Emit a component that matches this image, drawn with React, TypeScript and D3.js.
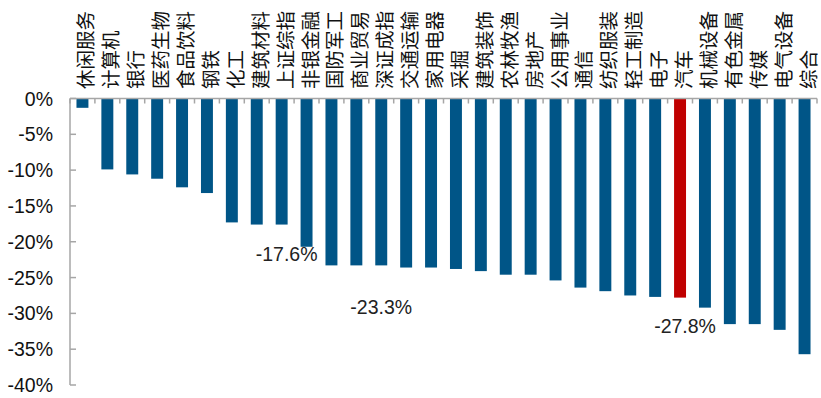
import React from "react";
import * as d3 from "d3";

const categories = ["休闲服务","计算机","银行","医药生物","食品饮料","钢铁","化工","建筑材料","上证综指","非银金融","国防军工","商业贸易","深证成指","交通运输","家用电器","采掘","建筑装饰","农林牧渔","房地产","公用事业","通信","纺织服装","轻工制造","电子","汽车","机械设备","有色金属","传媒","电气设备","综合"];
const values = [-1.3,-9.9,-10.6,-11.2,-12.4,-13.2,-17.3,-17.6,-17.6,-20.7,-23.3,-23.3,-23.3,-23.6,-23.6,-23.8,-24.1,-24.6,-24.6,-25.4,-26.4,-26.9,-27.5,-27.7,-27.8,-29.2,-31.5,-31.5,-32.3,-35.7];
const highlighted = ["汽车"];
const yTicks = [0,-5,-10,-15,-20,-25,-30,-35,-40];
const annotationCats = ["上证综指","深证成指","汽车"];
const annotationVals = [-17.6,-23.3,-27.8];
const annotationDy = [36, 49, 35];
const annotationDx = [5, 0, 5];

const W = 821, H = 398;
const left = 70, right = 817, top = 98.5, bottom = 385;
const BLUE = "#005587";
const RED = "#C00000";
const AXIS = "#A6A6A6";

export default function App() {
  const x = d3.scaleBand<string>().domain(categories).range([left, right]).paddingInner(0.52).paddingOuter(0.26);
  const xb = d3.scaleBand<string>().domain(categories).range([left, right]);
  const y = d3.scaleLinear().domain([0, -40]).range([top, bottom]);
  const fmt = (v: number) => `${v}%`;
  return (
    <svg width={W} height={H} style={{ position: "absolute", left: 0, top: 0, background: "#fff" }}>
      {categories.map((c, i) => (
        <rect key={c} x={x(c)} y={y(0)} width={x.bandwidth()} height={y(values[i]) - y(0)}
          fill={highlighted.includes(c) ? RED : BLUE} />
      ))}
      {/* top axis */}
      <line x1={left} x2={right} y1={top} y2={top} stroke={AXIS} strokeWidth={1.5} />
      {categories.concat(["__end"]).map((c, i) => {
        const px = i < categories.length ? (xb(c) as number) : right;
        return <line key={"t" + i} x1={px} x2={px} y1={top} y2={top + 5} stroke={AXIS} strokeWidth={1.5} />;
      })}
      {/* y axis */}
      <line x1={left} x2={left} y1={top} y2={bottom} stroke={AXIS} strokeWidth={1.5} />
      {yTicks.map((t) => (
        <g key={t}>
          <line x1={left} x2={left + 6} y1={y(t)} y2={y(t)} stroke={AXIS} strokeWidth={1.5} />
          <text x={53} y={y(t)} dy="0.36em" textAnchor="end" fontFamily="'Liberation Sans', Arial, sans-serif" fontSize={19.5} fill="#111">{fmt(t)}</text>
        </g>
      ))}
      {/* category labels */}
      {categories.map((c) => {
        const cx = (xb(c) as number) + xb.bandwidth() / 2 + 4;
        return (
          <text key={"l" + c} transform={`translate(${cx},${89}) rotate(-90)`} dy="0.36em" textAnchor="start"
            fontFamily="'Noto Sans CJK SC', sans-serif" fontSize={19.5} fill="#111">{c}</text>
        );
      })}
      {/* annotations */}
      {annotationCats.map((c, i) => (
        <text key={"a" + c} x={(xb(c) as number) + xb.bandwidth() / 2 + annotationDx[i]} y={y(annotationVals[i]) + annotationDy[i]}
          textAnchor="middle" fontFamily="'Liberation Sans', Arial, sans-serif" fontSize={19.5} fill="#222">{fmt(annotationVals[i])}</text>
      ))}
    </svg>
  );
}
